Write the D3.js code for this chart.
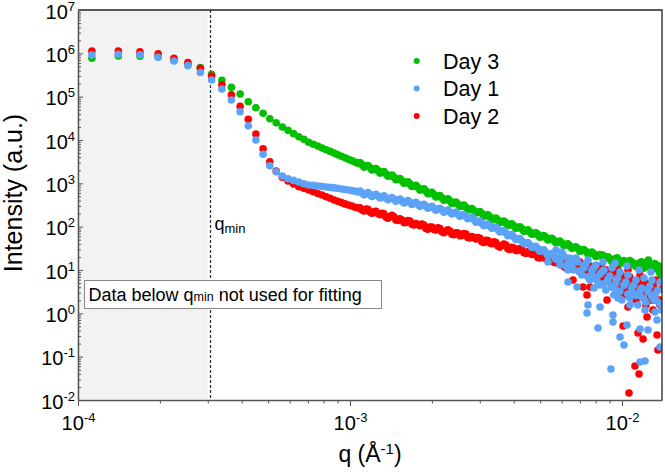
<!DOCTYPE html>
<html>
<head>
<meta charset="utf-8">
<script src="https://cdn.jsdelivr.net/npm/d3@7"></script>
<style>
body { margin: 0; background: #fff; }
svg { display: block; font-family: "Liberation Sans", Arial, sans-serif; }
</style>
</head>
<body>
<svg id="chart" width="665" height="472"></svg>
<script>
// q grid (1/Å), shared by the three measurements
var qValues = [
    1.125e-4, 1.407e-4, 1.689e-4, 1.971e-4, 2.253e-4, 2.535e-4, 2.817e-4, 3.099e-4, 3.381e-4, 3.663e-4,
    3.945e-4, 4.227e-4, 4.509e-4, 4.791e-4, 5.073e-4, 5.355e-4, 5.637e-4, 5.919e-4, 6.201e-4, 6.483e-4,
    6.765e-4, 7.047e-4, 7.329e-4, 7.611e-4, 7.893e-4, 8.175e-4, 8.457e-4, 8.739e-4, 9.021e-4, 9.303e-4,
    9.585e-4, 9.867e-4, 1.0149e-3, 1.0431e-3,
    1.070e-3, 1.107e-3, 1.145e-3, 1.184e-3, 1.225e-3, 1.267e-3, 1.311e-3, 1.356e-3, 1.403e-3, 1.451e-3,
    1.501e-3, 1.553e-3, 1.606e-3, 1.661e-3, 1.718e-3, 1.777e-3, 1.838e-3, 1.902e-3, 1.967e-3, 2.035e-3,
    2.105e-3, 2.177e-3, 2.252e-3, 2.330e-3, 2.410e-3, 2.493e-3, 2.579e-3, 2.667e-3, 2.759e-3, 2.854e-3,
    2.952e-3, 3.054e-3, 3.159e-3, 3.268e-3, 3.380e-3, 3.497e-3, 3.617e-3, 3.741e-3, 3.870e-3, 4.003e-3,
    4.141e-3, 4.284e-3, 4.431e-3, 4.584e-3, 4.741e-3, 4.905e-3, 5.073e-3, 5.248e-3, 5.429e-3, 5.616e-3,
    5.809e-3, 6.009e-3, 6.216e-3, 6.430e-3, 6.651e-3, 6.880e-3, 7.117e-3, 7.362e-3, 7.615e-3, 7.877e-3,
    8.148e-3, 8.429e-3, 8.719e-3, 9.019e-3, 9.329e-3, 9.650e-3, 9.982e-3, 1.033e-2, 1.068e-2, 1.105e-2,
    1.143e-2, 1.182e-2, 1.223e-2, 1.265e-2, 1.309e-2, 1.354e-2, 1.400e-2
];

var day3 = [
    7.7e5, 8.7e5, 8.6e5, 8.3e5, 7.0e5, 5.5e5, 4.7e5, 3.28e5, 2.39e5, 1.64e5,
    1.15e5, 7.65e4, 5.56e4, 4.13e4, 3.10e4, 2.50e4, 2.00e4, 1.67e4, 1.40e4, 1.19e4,
    1.04e4, 8.85e3, 8.0e3, 7.23e3, 6.56e3, 5.97e3, 5.45e3, 4.98e3, 4.57e3, 4.20e3,
    3.88e3, 3.60e3, 3.34e3, 3.10e3,
    2900, 2700, 2460, 2320, 2120, 1960, 1790, 1660, 1500, 1390,
    1240, 1150, 1040, 970, 870, 800, 720, 662, 595, 552,
    500, 466, 422, 393, 356, 333, 300, 281, 252, 236,
    212, 200, 180, 168, 151, 142, 128, 122, 110, 105,
    95, 90, 80, 76, 69, 65.5, 59, 56.5, 51, 48.8,
    44, 42, 38, 36.2, 32.5, 31.2, 28, 27, 24.3, 23.5,
    21.2, 20.8, 18.6, 18.3, 16.5, 16.8, 14.8, 15.2, 13.5, 14.2,
    12.6, 13.4, 11.8, 12.5, 11.0, 10.3, 7.7
];

var day1 = [
    9.1e5, 9.5e5, 9.2e5, 8.1e5, 6.65e5, 5.2e5, 3.6e5, 2.43e5, 1.50e5, 8.4e4,
    4.5e4, 2.14e4, 1.00e4, 4.68e3, 2.55e3, 1.85e3, 1.48e3, 1.28e3, 1.17e3, 1.07e3,
    980, 915, 895, 870, 850, 825, 805, 785, 765, 740,
    720, 700, 680, 660,
    631, 604, 576, 552, 529, 507, 486, 466, 447, 428,
    410, 393, 377, 361, 344, 328, 311, 297, 281, 267,
    254, 241, 230, 218, 206, 194, 183, 171, 162, 146,
    131, 118, 110, 103, 96.2, 86.4, 78.5, 71.0, 64.1, 57.7,
    51.9, 46.7, 42.0, 38.1, 34.5, 31.1, 28.1, 25.3, 22.8, 21.0,
    19.4, 26.0, 12.4, 18.9, 10.0, 15.3, 7.66, 13.7, 5.87, 11.1,
    5.28, 8.97, 3.45, 7.26, 2.64, 6.53, 2.03, 5.28, 2.25, 4.50,
    1.56, 3.84, 1.82, 4.27, 2.03, 3.45, 1.19
];

var day2 = [
    1.13e6, 1.13e6, 1.08e6, 9.7e5, 7.7e5, 6.1e5, 4.5e5, 3.0e5, 1.89e5, 1.11e5,
    6.0e4, 3.0e4, 1.37e4, 6.3e3, 3.16e3, 1.92e3, 1.38e3, 1.13e3, 964, 836,
    771, 701, 637, 582, 538, 491, 451, 412, 385, 359,
    335, 316, 300, 281,
    269, 242, 255, 218, 221, 200, 204, 168, 171, 169,
    139, 143, 125, 135, 109, 112, 115, 90.6, 98.2, 86.4,
    94.0, 76.4, 78.9, 79.4, 64.9, 71.0, 62.5, 67.6, 54.7, 56.1,
    56.1, 45.0, 48.2, 42.0, 45.0, 36.0, 36.7, 37.5, 29.9, 32.2,
    28.2, 30.3, 24.3, 24.7, 24.4, 19.5, 21.5, 18.1, 19.4, 15.1,
    16.6, 13.1, 15.5, 11.7, 14.6, 10.2, 13.5, 8.89, 12.4, 7.74,
    12.0, 7.03, 10.1, 5.57, 9.23, 4.74, 7.45, 3.64, 6.88, 3.54,
    5.57, 2.44, 5.00, 2.51, 4.05, 1.92, 3.64
];

// in-between points of the dense band (q > 1e-3)
var qMid = [
    1.088e-3, 1.126e-3, 1.164e-3, 1.204e-3, 1.246e-3, 1.289e-3, 1.333e-3, 1.379e-3, 1.426e-3, 1.475e-3,
    1.526e-3, 1.579e-3, 1.633e-3, 1.689e-3, 1.747e-3, 1.807e-3, 1.870e-3, 1.934e-3, 2.000e-3, 2.069e-3,
    2.140e-3, 2.214e-3, 2.290e-3, 2.369e-3, 2.451e-3, 2.535e-3, 2.622e-3, 2.712e-3, 2.806e-3, 2.902e-3,
    3.002e-3, 3.106e-3, 3.212e-3, 3.323e-3, 3.437e-3, 3.556e-3, 3.678e-3, 3.805e-3, 3.936e-3, 4.071e-3,
    4.211e-3, 4.356e-3, 4.506e-3, 4.661e-3, 4.822e-3, 4.988e-3, 5.160e-3, 5.337e-3, 5.521e-3, 5.711e-3,
    5.908e-3, 6.111e-3, 6.322e-3, 6.539e-3, 6.765e-3, 6.998e-3, 7.238e-3, 7.488e-3, 7.746e-3, 8.012e-3,
    8.288e-3, 8.574e-3, 8.869e-3, 9.174e-3, 9.490e-3, 9.817e-3, 1.015e-2, 1.050e-2, 1.086e-2, 1.124e-2,
    1.162e-2, 1.202e-2, 1.244e-2, 1.287e-2, 1.331e-2, 1.377e-2
];
var day3Mid = [
    3020, 2370, 2580, 2040, 2200, 1723, 1862, 1452, 1560, 1208,
    1290, 1006, 1085, 845, 901, 698, 746, 577, 619, 483,
    521, 408, 440, 344, 372, 291, 314, 245, 263, 206,
    222, 175, 188, 147, 158, 124, 135, 107, 116, 91.9,
    99.9, 78.1, 84.2, 66.6, 72.6, 57.2, 62.3, 49.4, 53.9, 42.6,
    46.4, 36.7, 40.0, 31.6, 34.4, 27.2, 29.7, 23.6, 25.8, 20.5,
    22.7, 18.1, 20.3, 15.7, 18.3, 14.2, 16.5, 12.9, 15.2, 12.0,
    14.6, 11.3, 13.3, 10.3, 11.2, 8.5
];
var day1Mid = [
    667, 543, 609, 497, 559, 457, 514, 420, 472, 385,
    433, 354, 398, 324, 363, 294, 328, 266, 296, 239,
    267, 216, 242, 195, 216, 173, 191, 153, 166, 127,
    134, 105, 115, 91.6, 98.5, 75.8, 80.6, 62.1, 65.7, 50.3,
    53.2, 40.7, 43.2, 33.4, 35.4, 27.2, 29.3, 21.6, 24.1, 17.8,
    16.5, 20.5, 14.0, 12.0, 16.0, 9.5, 12.5, 7.0, 9.8, 6.2,
    8.0, 4.8, 6.0, 4.0, 5.0, 3.2, 4.4, 2.8, 3.9, 2.6,
    3.2, 2.2, 3.6, 2.5, 2.9, 1.7
];
var day2Mid = [
    273, 231, 252, 204, 225, 188, 198, 157, 182, 142,
    151, 124, 139, 113, 118, 105, 109, 87.7, 98.5, 83.8,
    90.7, 72.2, 84.7, 66.8, 72.6, 61.9, 69.5, 56.5, 59.3, 52.2,
    53.8, 43.3, 48.1, 40.4, 43.1, 33.8, 39.7, 31.1, 33.2, 28.0,
    31.3, 25.2, 26.2, 22.8, 23.3, 19.0, 21.1, 17.4, 18.3, 14.7,
    14.8, 12.0, 13.8, 10.8, 12.6, 9.0, 11.2, 7.5, 10.5, 6.5,
    9.6, 5.6, 8.4, 4.6, 7.6, 4.1, 6.2, 3.3, 5.6, 2.9,
    4.6, 2.2, 4.4, 2.0, 3.4, 1.6
];

// extra scattered points in the noisy high-q tail
var day3TailQ = [8.5e-3, 9.6e-3, 1.07e-2, 1.18e-2, 1.25e-2, 1.32e-2, 1.38e-2, 1.05e-2, 1.2e-2, 1.36e-2, 1.40e-2];
var day3TailI = [22, 19, 16.5, 15.5, 17, 14, 9.5, 12, 11, 12.5, 6.5];

var day1TailQ = [
    5.346e-3, 5.720e-3, 5.917e-3, 6.121e-3, 6.331e-3, 6.549e-3, 6.774e-3, 7.008e-3, 7.249e-3, 7.499e-3,
    7.757e-3, 8.024e-3, 8.302e-3, 8.586e-3, 8.881e-3, 9.187e-3, 9.505e-3, 9.832e-3, 1.017e-2, 1.052e-2,
    1.088e-2, 1.126e-2, 1.165e-2, 1.205e-2, 1.246e-2, 1.289e-2, 1.334e-2, 1.380e-2, 8.513e-3, 9.425e-3,
    1.043e-2, 1.155e-2, 1.278e-2, 7.889e-3, 9.667e-3, 1.070e-2, 1.215e-2, 1.322e-2,
    7.435e-3, 7.499e-3, 8.162e-3, 9.266e-3, 9.266e-3, 9.832e-3, 1.017e-2, 9.109e-3, 1.043e-2, 1.165e-2,
    1.215e-2, 1.165e-2, 1.246e-2, 1.345e-2, 1.380e-2, 8.302e-3, 6.832e-3, 6.331e-3
];
var day1TailI = [
    15.3, 28.9, 13.0, 21.0, 10.0, 15.3, 18.9, 8.98, 11.1, 17.0,
    7.66, 13.0, 4.50, 10.0, 5.28, 11.1, 3.45, 8.98, 4.50, 7.66,
    3.10, 5.87, 2.51, 6.53, 3.10, 5.87, 2.03, 5.28, 15.3, 14.5,
    12.4, 10.0, 8.98, 3.84, 2.26, 1.56, 1.19, 1.07,
    1.02, 1.56, 0.458, 0.914, 0.630, 0.284, 0.186, 0.0519, 0.537, 0.0752,
    0.0793, 0.434, 0.412, 0.700, 0.167, 1.40, 4.05, 5.28
];

var day2TailQ = [
    5.917e-3, 6.225e-3, 6.606e-3, 7.190e-3, 7.629e-3, 8.024e-3, 8.443e-3, 8.808e-3, 9.187e-3, 9.667e-3,
    1.017e-2, 1.070e-2, 1.126e-2, 1.165e-2, 1.225e-2, 1.289e-2, 1.334e-2, 1.380e-2, 7.008e-3, 9.832e-3,
    1.052e-2, 1.205e-2, 1.322e-2,
    1.009e-2, 1.145e-2, 1.195e-2, 1.345e-2, 1.356e-2, 1.116e-2, 1.155e-2, 1.061e-2, 1.052e-2, 1.236e-2,
    1.300e-2, 7.435e-3, 1.135e-2
];
var day2TailI = [
    18.9, 11.1, 5.87, 4.05, 4.05, 7.66, 11.1, 2.03, 4.50, 10.0,
    2.64, 4.50, 2.03, 7.66, 1.56, 3.45, 5.87, 2.03, 15.3, 3.45,
    10.0, 3.10, 2.26,
    0.509, 0.351, 0.255, 0.316, 0.142, 0.0608, 0.0397, 0.0145, 1.40, 0.822,
    1.19, 2.64, 2.38
];

var xTicks = [1e-4, 1e-3, 1e-2];
var yTicks = [1e-2, 1e-1, 1e0, 1e1, 1e2, 1e3, 1e4, 1e5, 1e6, 1e7];
var qMin = 3.07e-4;
var shadeEnd = 3.0e-4;
var legendNames = ["Day 3", "Day 1", "Day 2"];

var colGreen = "#00c000", colBlue = "#5ca3f7", colRed = "#ff0000";

var svg = d3.select("#chart");
var pLeft = 78, pRight = 662, pTop = 10, pBottom = 400;

var x = d3.scaleLog().domain([1e-4, 0.01403]).range([pLeft, pRight]);
var y = d3.scaleLog().domain([1e-2, 1e7]).range([pBottom, pTop]);

function minorTicks(lo, hi) {
    var out = [];
    for (var e = Math.floor(Math.log10(lo)); e <= Math.ceil(Math.log10(hi)); e++) {
        for (var m = 2; m <= 9; m++) {
            var v = m * Math.pow(10, e);
            if (v > lo && v < hi) out.push(v);
        }
    }
    return out;
}

// grey region below q_min
svg.append("rect")
    .attr("x", x(1e-4) + 2).attr("y", pTop + 1)
    .attr("width", x(shadeEnd) - x(1e-4) - 2).attr("height", pBottom - pTop - 2)
    .attr("fill", "#f2f2f2");

svg.append("line")
    .attr("x1", x(qMin)).attr("x2", x(qMin))
    .attr("y1", pTop).attr("y2", pBottom)
    .attr("stroke", "#333").attr("stroke-width", 1.3)
    .attr("stroke-dasharray", "3,2");

svg.append("clipPath").attr("id", "plotClip")
    .append("rect").attr("x", pLeft).attr("y", pTop)
    .attr("width", pRight - pLeft).attr("height", pBottom - pTop);

function pairs(qs, vs) {
    return qs.map(function(q, i) { return [q, vs[i]]; });
}

var series = [
    {color: colGreen, pts: pairs(qValues, day3).concat(pairs(qMid, day3Mid), pairs(day3TailQ, day3TailI))},
    {color: colRed, pts: pairs(qValues, day2).concat(pairs(qMid, day2Mid), pairs(day2TailQ, day2TailI))},
    {color: colBlue, pts: pairs(qValues, day1).concat(pairs(qMid, day1Mid), pairs(day1TailQ, day1TailI))}
];

var plot = svg.append("g").attr("clip-path", "url(#plotClip)");
series.forEach(function(s) {
    plot.append("g").selectAll("circle").data(s.pts).enter().append("circle")
        .attr("cx", function(d) { return x(d[0]); })
        .attr("cy", function(d) { return y(d[1]); })
        .attr("r", 3.8)
        .attr("fill", s.color);
});

// frame top/right
svg.append("path")
    .attr("d", "M" + pLeft + "," + pTop + "H" + pRight + "V" + pBottom)
    .attr("fill", "none").attr("stroke", "#222").attr("stroke-width", 1.3);

function powLabels(g) {
    g.selectAll(".tick text").each(function(d) {
        var e = Math.round(Math.log10(d));
        var t = d3.select(this).text(null);
        t.append("tspan").text("10");
        t.append("tspan").attr("font-size", 13).attr("dy", -8).text(e);
    });
}

// y axis
var yMinor = svg.append("g").attr("transform", "translate(" + pLeft + ",0)")
    .call(d3.axisLeft(y).tickValues(minorTicks(1e-2, 1e7)).tickSize(-3).tickFormat(""));
yMinor.select(".domain").remove();
yMinor.selectAll("line").attr("stroke", "#555");

var yAxis = svg.append("g").attr("transform", "translate(" + pLeft + ",0)")
    .call(d3.axisLeft(y).tickValues(yTicks).tickSizeInner(-5).tickSizeOuter(0).tickPadding(3));
yAxis.attr("font-size", 20).attr("font-family", null);
yAxis.select(".domain").attr("stroke", "#555").attr("stroke-width", 1.6);
yAxis.selectAll("line").attr("stroke", "#555");
yAxis.selectAll(".tick text").attr("fill", "#000").attr("dy", "0.4em");
powLabels(yAxis);

// x axis
var xMinor = svg.append("g").attr("transform", "translate(0," + pBottom + ")")
    .call(d3.axisBottom(x).tickValues(minorTicks(1e-4, 0.01403)).tickSize(3.5).tickFormat(""));
xMinor.select(".domain").remove();
xMinor.selectAll("line").attr("stroke", "#555");

var xAxis = svg.append("g").attr("transform", "translate(0," + pBottom + ")")
    .call(d3.axisBottom(x).tickValues(xTicks).tickSizeInner(6).tickSizeOuter(0).tickPadding(10));
xAxis.attr("font-size", 20).attr("font-family", null);
xAxis.select(".domain").attr("stroke", "#555").attr("stroke-width", 1.6);
xAxis.selectAll("line").attr("stroke", "#555");
xAxis.selectAll(".tick text").attr("fill", "#000");
powLabels(xAxis);

// axis titles
svg.append("text")
    .attr("transform", "translate(22,193) rotate(-90)")
    .attr("text-anchor", "middle").attr("font-size", 25)
    .text("Intensity (a.u.)");

var xt = svg.append("text")
    .attr("x", 370).attr("y", 462)
    .attr("text-anchor", "middle").attr("font-size", 23);
xt.append("tspan").text("q (Å");
xt.append("tspan").attr("font-size", 15).attr("dy", -8).text("-1");
xt.append("tspan").attr("dy", 8).text(")");

// q_min label
var qm = svg.append("text").attr("x", x(qMin) + 4).attr("y", 229.5).attr("font-size", 18);
qm.append("tspan").text("q");
qm.append("tspan").attr("font-size", 13).attr("dy", 3.5).text("min");

// annotation box
svg.append("rect")
    .attr("x", 84.5).attr("y", 280.5).attr("width", 297).attr("height", 28)
    .attr("fill", "#fff").attr("stroke", "#888").attr("stroke-width", 1);
var note = svg.append("text").attr("x", 88.5).attr("y", 300.5).attr("font-size", 18);
note.append("tspan").text("Data below q");
note.append("tspan").attr("font-size", 12.5).attr("dy", 0.5).text("min");
note.append("tspan").attr("dy", -0.5).text(" not used for fitting");

// legend
var legendColors = [colGreen, colBlue, colRed];
var legendY = [61, 88.5, 116];
legendNames.forEach(function(name, i) {
    svg.append("circle").attr("cx", 416.7).attr("cy", legendY[i]).attr("r", 3)
        .attr("fill", legendColors[i]);
    svg.append("text").attr("x", 443).attr("y", legendY[i]).attr("dy", "0.36em")
        .attr("font-size", 21.5).text(name);
});
</script>
</body>
</html>
